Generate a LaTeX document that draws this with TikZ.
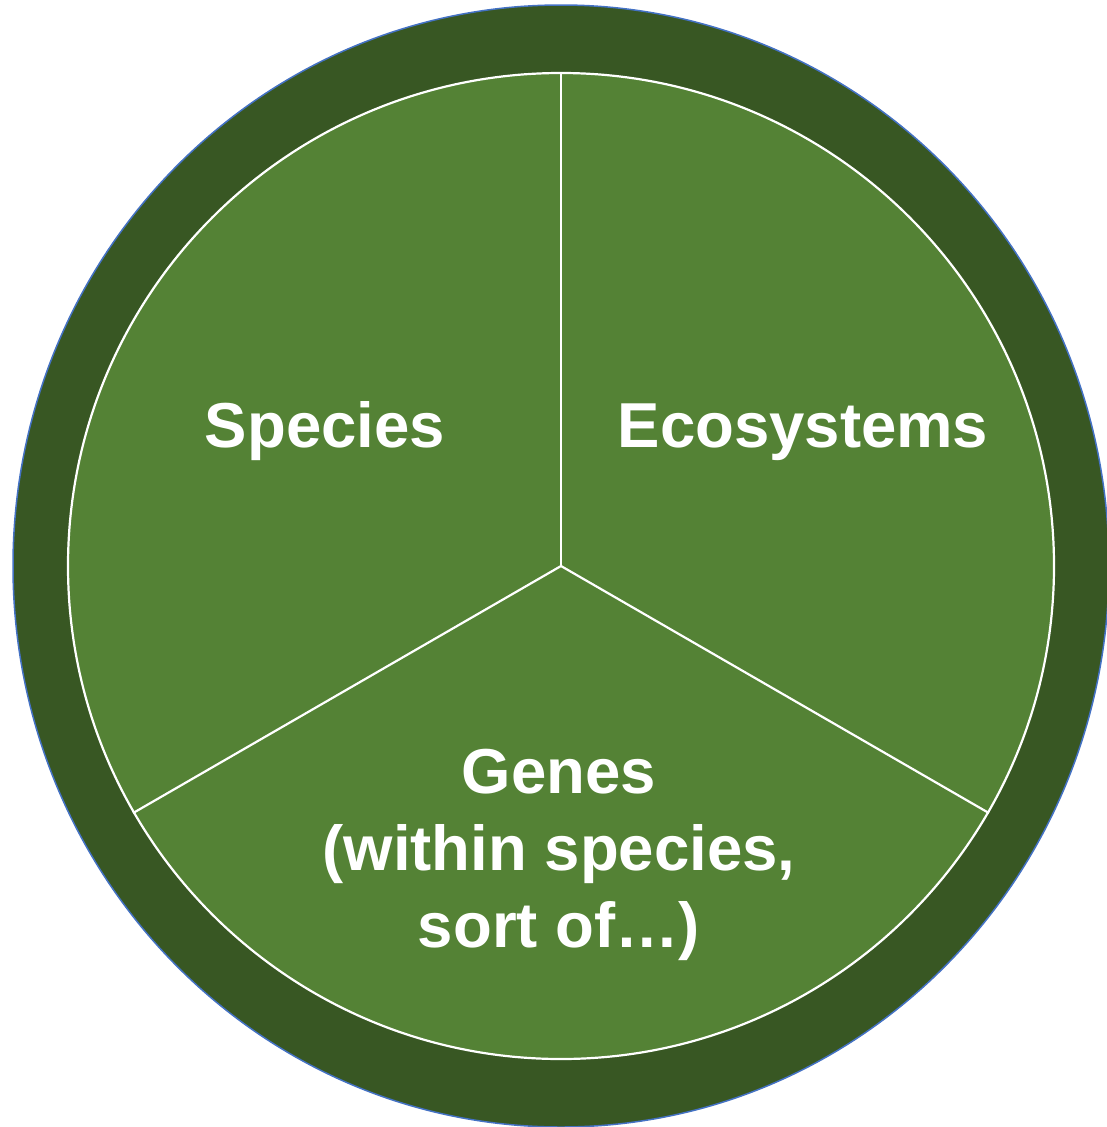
\documentclass[tikz,border=0pt]{standalone}
\usepackage{fontspec}
\setmainfont{Liberation Sans}
\usepackage{xcolor}
\usetikzlibrary{positioning}

\definecolor{ringgreen}{HTML}{385723}
\definecolor{piegreen}{HTML}{548235}
\definecolor{rimblue}{HTML}{4472C4}

\begin{document}
\begin{tikzpicture}[x=1pt, y=-1pt]
        \tikzstyle{ring} = [fill=ringgreen, draw=rimblue, line width=1.5pt]
        \tikzstyle{pie} = [circle, fill=piegreen, draw=white, line width=2.2pt, inner sep=0pt, minimum size=986pt]
        \tikzstyle{divider} = [draw, white, line width=2.2pt]
        \tikzstyle{sectortext} = [text=white, font=\fontsize{63.5}{77}\selectfont\bfseries, align=center, inner sep=0pt]

        \useasboundingbox (0,0) rectangle (1107,1127);
        \coordinate (ctr) at (561,566);

        % outer ring and the pie
        \path [ring] (ctr) ellipse [x radius=548, y radius=561];
        \node [pie] (disc) at (ctr) {};

        \path [divider] (ctr) -- (disc.90);
        \path [divider] (ctr) -- (disc.210);
        \path [divider] (ctr) -- (disc.330);

        \node [sectortext, anchor=base] (species) at (325,447) {Species};
        \node [sectortext, anchor=base] (ecosystems) at (803,447) {Ecosystems};
        \node [sectortext] (genes) at (559,855) {Genes\\(within species,\\sort of…)};
    \end{tikzpicture}
\end{document}
